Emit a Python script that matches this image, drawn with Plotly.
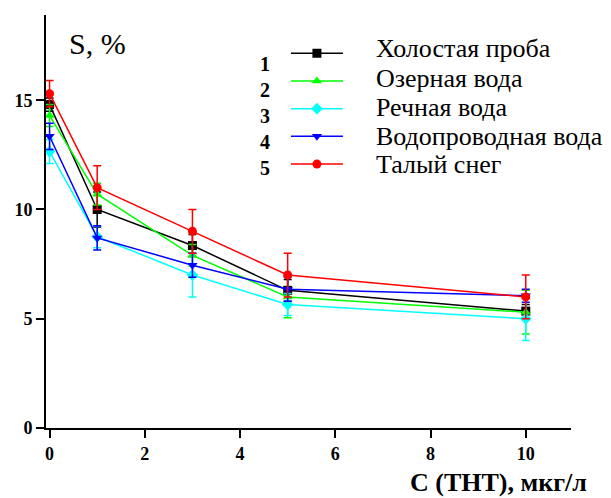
import plotly.graph_objects as go

x = [0, 1, 3, 5, 10]
names = ["Холостая проба", "Озерная вода", "Речная вода", "Водопроводная вода", "Талый снег"]
labels_num = ["1", "2", "3", "4", "5"]

s1 = [14.8, 10.0, 8.35, 6.3, 5.35]
s2 = [14.3, 10.7, 7.9, 6.0, 5.3]
s3 = [12.65, 8.75, 7.0, 5.65, 5.0]
s4 = [13.35, 8.7, 7.45, 6.35, 6.05]
s5 = [15.3, 11.0, 9.0, 7.0, 6.0]

e1 = [0.3, 0.8, 0.5, 0.5, 0.3]
e2 = [0.5, 0.5, 0.5, 0.95, 1.0]
e3 = [0.55, 0.5, 1.0, 0.5, 1.0]
e4 = [0.6, 0.55, 0.55, 0.55, 0.3]
e5 = [0.6, 1.0, 1.0, 1.0, 1.0]

series = [s1, s2, s3, s4, s5]
errors = [e1, e2, e3, e4, e5]
colors = ["#000000", "#00ff00", "#00ffff", "#0000ff", "#ff0000"]
symbols = ["square", "triangle-up", "diamond", "triangle-down", "circle"]

FONT = "Liberation Serif, Times New Roman, serif"

fig = go.Figure()
for i in range(5):
    fig.add_trace(go.Scatter(
        x=x, y=series[i], name="\u00a0",
        mode="lines+markers",
        line=dict(color=colors[i], width=1.5),
        marker=dict(symbol=symbols[i], size=9, color=colors[i]),
        error_y=dict(type="data", array=errors[i], visible=True,
                     color=colors[i], thickness=1.5, width=4),
    ))

# plot area: top 15px, bottom 428px (height 413), left 46px
def py(pix):
    return (428 - pix) / 413.0

# legend numbers column
fig.add_annotation(xref="paper", yref="paper", x=(265 - 46) / 525.0, y=py(116),
                   xanchor="center", yanchor="middle",
                   text="<br>".join(labels_num), showarrow=False, align="center",
                   font=dict(family=FONT, size=20, color="black", weight="bold"))

# legend texts
text_rows = [49, 78, 107, 136, 164]
for i, nm in enumerate(names):
    fig.add_annotation(xref="paper", yref="paper", x=(374 - 46) / 525.0, y=py(text_rows[i]),
                       xanchor="left", yanchor="middle", text=nm, showarrow=False,
                       font=dict(family=FONT, size=26, color="black"))

fig.add_annotation(xref="paper", yref="paper", x=(67 - 46) / 525.0, y=py(44), xanchor="left",
                   yanchor="middle", text="S, %", showarrow=False,
                   font=dict(family=FONT, size=30, color="black"))
fig.add_annotation(xref="paper", yref="paper", x=(589 - 46) / 525.0, y=py(482), xanchor="right",
                   yanchor="middle", text="C (ТНТ), мкг/л", showarrow=False,
                   font=dict(family=FONT, size=26, color="black", weight="bold"))

fig.add_shape(type="line", xref="paper", yref="paper", x0=-0.015, x1=0, y0=0, y1=0,
              line=dict(color="black", width=2))

fig.update_layout(
    width=611, height=498,
    margin=dict(l=46, r=40, t=15, b=70),
    paper_bgcolor="white", plot_bgcolor="white",
    showlegend=True,
    legend=dict(x=0.457, y=0.953, xanchor="left", yanchor="top",
                font=dict(family=FONT, size=19, color="black"),
                bgcolor="rgba(0,0,0,0)", itemwidth=52, tracegroupgap=0),
    xaxis=dict(range=[-0.075, 10.95], tickvals=[0, 2, 4, 6, 8, 10],
               showgrid=False, zeroline=False, showline=True, linecolor="black",
               linewidth=2, ticks="outside", ticklen=8, tickwidth=2, tickcolor="black",
               tickfont=dict(family=FONT, size=18, color="black", weight="bold")),
    yaxis=dict(range=[0, 18.9], tickvals=[0, 5, 10, 15],
               showgrid=False, zeroline=False, showline=True, linecolor="black",
               linewidth=2, ticks="outside", ticklen=8, tickwidth=2, tickcolor="black",
               tickfont=dict(family=FONT, size=18, color="black", weight="bold")),
)

fig.write_html("out.html")
